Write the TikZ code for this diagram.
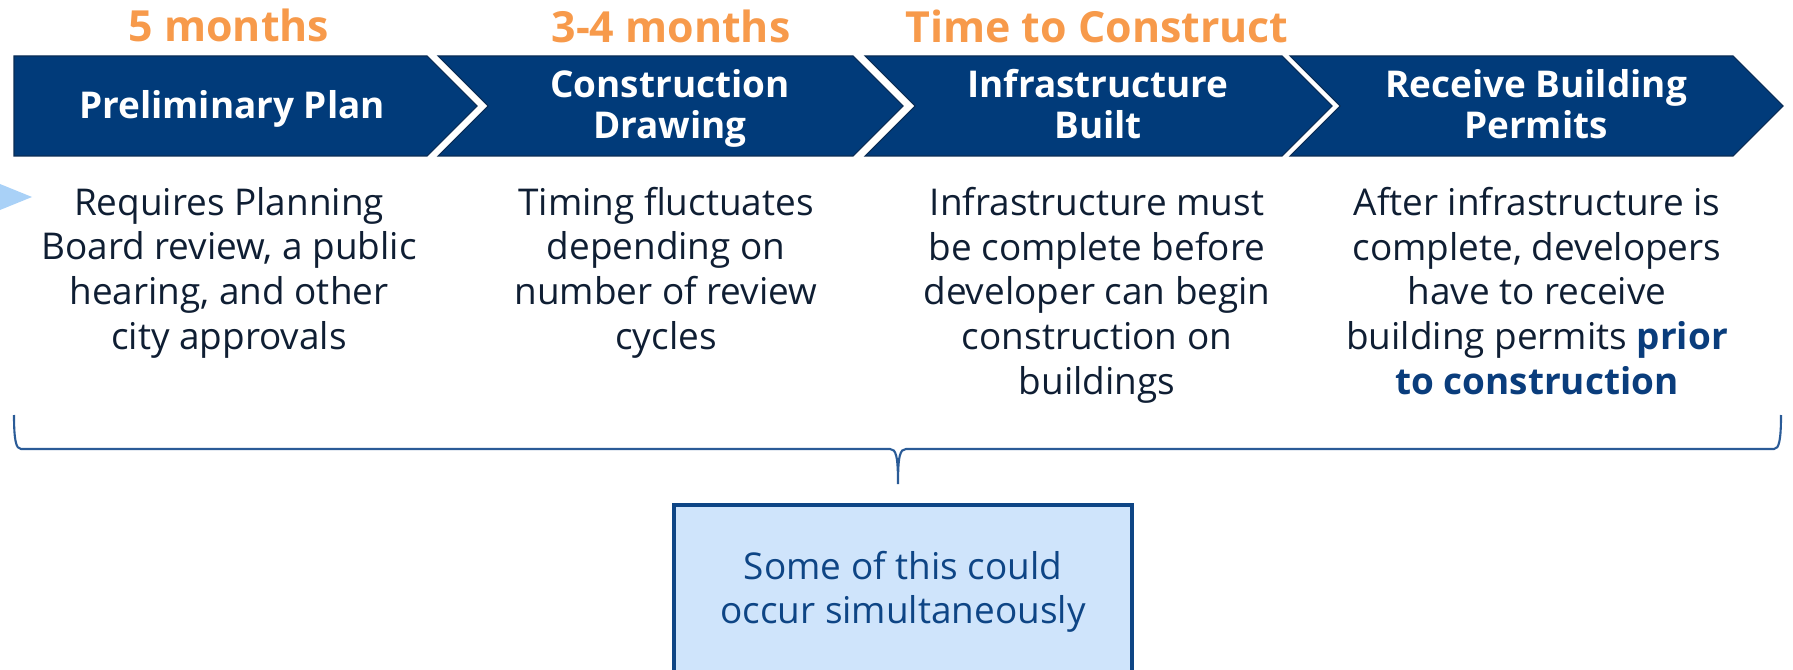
\documentclass[tikz,border=0pt]{standalone}
\usepackage{fontspec}
\setmainfont{Open Sans}

\definecolor{navy}{HTML}{013B7A}
\definecolor{navyedge}{HTML}{0A2C55}
\definecolor{months}{HTML}{F79A4B}
\definecolor{ink}{HTML}{0F1E33}
\definecolor{deepblue}{HTML}{0A3D7C}
\definecolor{notefill}{HTML}{CFE4FB}
\definecolor{noteline}{HTML}{0E4585}
\definecolor{bracecol}{HTML}{2A5B97}
\definecolor{pointer}{HTML}{A9D1F7}

\begin{document}
\begin{tikzpicture}[phase/.style = {fill=navy, draw=navyedge, line width=0.3pt},
    time/.style = {text=months, font=\bfseries\fontsize{12.2}{14}\selectfont, anchor=base, inner sep=0},
    head/.style = {text=white, font=\bfseries\fontsize{10.5}{11.95}\selectfont, align=center, anchor=base, inner sep=0},
    desc/.style = {text=ink, font=\fontsize{10.5}{12.7}\selectfont, align=center, anchor=base, inner sep=0},
    note/.style = {draw=noteline, fill=notefill, line width=1.15pt, minimum width=4.575cm, minimum height=1.74cm,
                   text=noteline, font=\fontsize{10.5}{12.5}\selectfont, align=center}]

            \useasboundingbox (0,0) rectangle (17.93,-6.70);
            \clip (0,0) rectangle (17.93,-6.70);

            % Chevrons
            \path[phase] (0.14,-0.56) -- (4.27,-0.56) -- (4.77,-1.06) -- (4.27,-1.56) -- (0.14,-1.56) -- cycle;
            \path[phase] (4.38,-0.56) -- (8.53,-0.56) -- (9.03,-1.06) -- (8.53,-1.56) -- (4.38,-1.56) -- (4.88,-1.06) -- cycle;
            \path[phase] (8.65,-0.56) -- (12.82,-0.56) -- (13.32,-1.06) -- (12.82,-1.56) -- (8.65,-1.56) -- (9.15,-1.06) -- cycle;
            \path[phase] (12.90,-0.56) -- (17.33,-0.56) -- (17.83,-1.06) -- (17.33,-1.56) -- (12.90,-1.56) -- (13.40,-1.06) -- cycle;
            \fill[pointer] (0,-1.84) -- (0.32,-1.97) -- (0,-2.10) -- cycle;

            % Durations
            \node[time] (T1) at (2.29,-0.42) {5 months};
            \node[time] (T2) at (6.71,-0.43) {3-4 months};
            \node[time] (T3) at (10.97,-0.43) {Time to Construct};

            % Titles (base = last line)
            \node[head] (H1) at (2.32,-1.19) {Preliminary Plan};
            \node[head] (H2) at (6.70,-1.39) {Construction\\Drawing};
            \node[head] (H3) at (10.98,-1.39) {Infrastructure\\Built};
            \node[head] (H4) at (15.36,-1.39) {Receive Building\\Permits};

            % Descriptions (base = last line)
            \node[desc] (D1) at (2.29,-3.49) {Requires Planning\\Board review, a public\\hearing, and other\\city approvals};
            \node[desc] (D2) at (6.66,-3.49) {Timing fluctuates\\depending on\\number of review\\cycles};
            \node[desc] (D3) at (10.97,-3.94) {Infrastructure must\\be complete before\\developer can begin\\construction on\\buildings};
            \node[desc] (D4) at (15.37,-3.94) {After infrastructure is\\complete, developers\\have to receive\\building permits {\color{deepblue}\bfseries prior}\\{\color{deepblue}\bfseries to construction}};

            % Brace
            \draw[bracecol, line width=0.6pt] (0.14,-4.15) .. controls (0.14,-4.40) and (0.16,-4.49) .. (0.21,-4.49)
                -- (8.90,-4.49) .. controls (8.96,-4.49) and (8.98,-4.56) .. (8.98,-4.84)
                .. controls (8.98,-4.56) and (9.00,-4.49) .. (9.06,-4.49)
                -- (17.74,-4.49) .. controls (17.79,-4.49) and (17.81,-4.40) .. (17.81,-4.15);

            % Note
            \node[note] (N) at (9.03,-5.92) {Some of this could\\occur simultaneously};
        \end{tikzpicture}
\end{document}
